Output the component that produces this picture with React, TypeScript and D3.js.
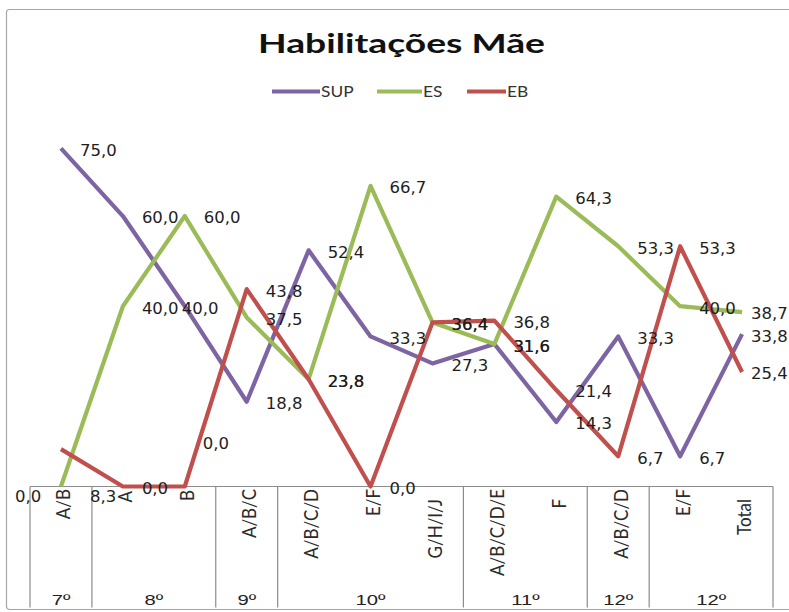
import React from "react";
import * as d3 from "d3";

// Categories (turma) and their year groups
const categories = ["A/B", "A", "B", "A/B/C", "A/B/C/D", "E/F", "G/H/I/J", "A/B/C/D/E", "F", "A/B/C/D", "E/F", "Total"];
const groupNames = ["7º", "8º", "9º", "10º", "11º", "12º", "12º"];
const groupSizes = [1, 2, 1, 3, 2, 1, 2];

// Percentages per series
const seriesNames = ["SUP", "ES", "EB"];
const supValues = [75.0, 60.0, 40.0, 18.8, 52.4, 33.3, 27.3, 31.6, 14.3, 33.3, 6.7, 33.8];
const esValues = [0.0, 40.0, 60.0, 37.5, 23.8, 66.7, 36.4, 31.6, 64.3, 53.3, 40.0, 38.7];
const ebValues = [8.3, 0.0, 0.0, 43.8, 23.8, 0.0, 36.4, 36.8, 21.4, 6.7, 53.3, 25.4];

const W = 789;
const H = 612;
const colors: Record<string, string> = { SUP: "#7d64a2", ES: "#9bbb59", EB: "#c0504d" };

// layout
const plotLeft = 30;
const plotRight = 773;
const plotBottom = 486.5;
const plotTop = 125.9;
const tableBottom = 607.5;

// label placement tweaks (pixel offsets from the data point)
const labelShift: Record<string, [number, number]> = {
  "SUP-2": [-3, 1.5],
  "ES-0": [-46, 10],
  "EB-0": [29, 47],
  "EB-2": [18, -43],
};
const catLabelDrop = [0, 2, 1, 0, 0, 0, 10, 0, 10, 0, 0, 10];
const legendX = [272, 377, 467];
const legendLine = [48, 45, 39];

const fmt = (v: number) => d3.format(".1f")(v).replace(".", ",");

export default function App() {
  const x = d3.scaleBand<number>().domain(categories.map((_, i) => i)).range([plotLeft, plotRight]).padding(0);
  const y = d3.scaleLinear().domain([0, 80]).range([plotBottom, plotTop]);
  const cx = (i: number) => (x(i) as number) + x.bandwidth() / 2;

  const series = [
    { name: seriesNames[0], values: supValues },
    { name: seriesNames[1], values: esValues },
    { name: seriesNames[2], values: ebValues },
  ];

  const line = d3
    .line<number>()
    .x((_, i) => cx(i))
    .y((d) => y(d));

  // group boundaries
  const bounds: number[] = [plotLeft];
  let acc = 0;
  groupSizes.forEach((s) => {
    acc += s;
    bounds.push(acc < categories.length ? (x(acc) as number) : plotRight);
  });

  const labelFont = "'DejaVu Sans', Verdana, sans-serif";
  const uiFont = "Lato, 'Open Sans', sans-serif";
  const groupFont = "'Liberation Sans', Arial, sans-serif";

  return (
    <svg
      width={W}
      height={H}
      viewBox={`0 0 ${W} ${H}`}
      style={{ position: "absolute", left: 0, top: 0, background: "#fff" }}
    >
      <rect x={0} y={0} width={W} height={H} fill="#fff" />
      {/* chart frame */}
      <rect x={6.5} y={9.5} width={820} height={600} rx={3} fill="#fff" stroke="#a6a6a6" strokeWidth={1.2} />

      {/* title */}
      <text
        x={258}
        y={53}
        fontFamily={uiFont}
        fontWeight={700}
        fontSize={26}
        fill="#111"
        textLength={287}
        lengthAdjust="spacingAndGlyphs"
      >
        Habilitações Mãe
      </text>

      {/* legend */}
      {series.map((s, k) => (
        <g key={s.name}>
          <line
            x1={legendX[k]}
            x2={legendX[k] + legendLine[k]}
            y1={91.5}
            y2={91.5}
            stroke={colors[s.name]}
            strokeWidth={4}
          />
          <text
            transform={`translate(${legendX[k] + legendLine[k] + 1},97) scale(1.12,1)`}
            fontFamily={uiFont}
            fontSize={15.5}
            fill="#333"
          >
            {s.name}
          </text>
        </g>
      ))}

      {/* category axis table */}
      <line x1={plotLeft} x2={plotRight} y1={plotBottom} y2={plotBottom} stroke="#8c8c8c" strokeWidth={1.2} />
      {bounds.map((bx, k) => (
        <line key={k} x1={bx} x2={bx} y1={plotBottom} y2={tableBottom} stroke="#8c8c8c" strokeWidth={1.2} />
      ))}
      {categories.map((c, i) => (
        <text
          key={i}
          transform={`translate(${cx(i) + 3},${489 + catLabelDrop[i]}) scale(1.08,1) rotate(-90)`}
          textAnchor="end"
          dy="0.35em"
          fontFamily={uiFont}
          fontSize={17}
          fill="#2a2a2a"
        >
          {c}
        </text>
      ))}
      {groupNames.map((g, k) => (
        <text
          key={k}
          transform={`translate(${(bounds[k] + bounds[k + 1]) / 2},605) scale(1.35,1)`}
          textAnchor="middle"
          fontFamily={groupFont}
          fontSize={15}
          fill="#222"
        >
          {g}
        </text>
      ))}

      {/* series lines */}
      {series.map((s) => (
        <path
          key={s.name}
          d={line(s.values) || ""}
          fill="none"
          stroke={colors[s.name]}
          strokeWidth={4.2}
          strokeLinejoin="round"
          strokeLinecap="butt"
        />
      ))}

      {/* data labels */}
      {series.map((s) =>
        s.values.map((v, i) => {
          const key = `${s.name}-${i}`;
          const def: [number, number] = [i === categories.length - 1 ? 9 : 19, 1.5];
          const [dx, dy] = labelShift[key] || def;
          return (
            <text
              key={key}
              x={cx(i) + dx}
              y={y(v) + dy}
              dy="0.36em"
              fontFamily={labelFont}
              fontSize={16.5}
              fill="#1e1e1e"
            >
              {fmt(v)}
            </text>
          );
        })
      )}
    </svg>
  );
}
